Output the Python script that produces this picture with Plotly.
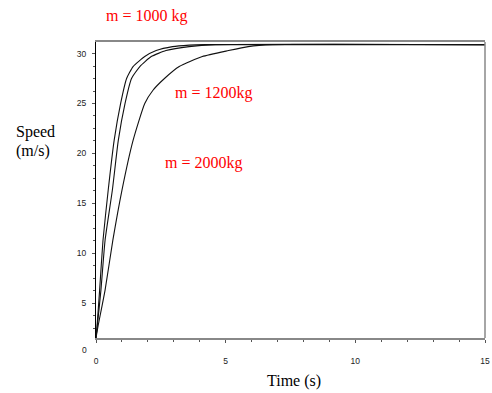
import plotly.graph_objects as go

# Curve data (time in s, speed in m/s)
t_1000 = [0, 0.04, 0.14, 0.27, 0.47, 0.70, 0.95, 1.18, 1.43, 1.88, 2.32, 2.95, 3.6, 4.2, 15]
v_1000 = [1.5, 2.7, 6.3, 11.3, 16.3, 21.3, 25.0, 27.5, 28.7, 29.7, 30.3, 30.7, 30.85, 30.9, 30.9]

t_1200 = [0, 0.05, 0.19, 0.35, 0.63, 0.86, 1.12, 1.37, 1.69, 2.13, 2.70, 3.59, 4.6, 15]
v_1200 = [1.5, 2.7, 6.3, 11.3, 16.3, 21.3, 25.0, 27.5, 28.7, 29.7, 30.3, 30.7, 30.9, 30.9]

t_2000 = [0, 0.08, 0.35, 0.65, 1.0, 1.43, 1.88, 2.19, 2.64, 3.21, 4.10, 5.11, 5.87, 6.8, 15]
v_2000 = [1.5, 2.7, 6.3, 11.3, 16.3, 21.3, 25.0, 26.3, 27.5, 28.7, 29.7, 30.3, 30.7, 30.9, 30.9]

x_ticks = [0, 5, 10, 15]
y_ticks = [5, 10, 15, 20, 25, 30]
labels = ["m = 1000 kg", "m = 1200kg", "m = 2000kg"]

W, H = 492, 393
L, R, T, B = 95.7, 2, 41.7, 54.7
pw, ph = W - L - R, H - T - B

def px(x):
    return (x - L) / pw

def py(y):
    return (H - B - y) / ph

fig = go.Figure()
for t, v, name in [(t_1000, v_1000, labels[0]), (t_1200, v_1200, labels[1]), (t_2000, v_2000, labels[2])]:
    fig.add_trace(go.Scatter(x=t, y=v, mode="lines", name=name,
                             line=dict(color="#111111", width=1.1, shape="spline", smoothing=0.5),
                             showlegend=False, hoverinfo="skip"))

tick_font = dict(family="Liberation Sans, Arial, sans-serif", size=8.5, color="#222222")

fig.update_layout(
    width=W, height=H,
    margin=dict(l=L, r=R, t=T, b=B, pad=0),
    paper_bgcolor="white", plot_bgcolor="white",
    xaxis=dict(range=[0, 15], tickvals=x_ticks, ticktext=[str(v) for v in x_ticks],
               showgrid=False, zeroline=False, showline=True, linecolor="#888888", linewidth=2,
               mirror=True, ticks="outside", ticklen=3, tickcolor="#555555", tickwidth=1,
               minor=dict(dtick=1, tick0=0, ticks="outside", ticklen=2, tickcolor="#555555"),
               tickfont=tick_font, ticklabelstandoff=11, ticklabeloverflow="allow"),
    yaxis=dict(range=[1.5, 31.16], tickvals=y_ticks, ticktext=[str(v) for v in y_ticks],
               showgrid=False, zeroline=False, showline=True, linecolor="#000000", linewidth=1,
               ticks="outside", ticklen=3, tickcolor="#555555", tickwidth=1,
               minor=dict(dtick=1.25, tick0=0, ticks="outside", ticklen=2, tickcolor="#555555"),
               tickfont=tick_font, ticklabelstandoff=4),
)

# right frame line
fig.add_shape(type="line", xref="paper", yref="paper", x0=1, x1=1, y0=0, y1=1,
              line=dict(color="#888888", width=1.5))

serif = "Liberation Serif, Times New Roman, serif"
red = dict(family=serif, size=16, color="#FF0000")
black = dict(family=serif, size=16, color="#000000")

ann = [
    (labels[0], 146.7, 15.7, red),
    (labels[1], 214.5, 93.3, red),
    (labels[2], 204.3, 163.3, red),
    ("Time (s)", 296.7, 381.7, black),
]
for text, x, y, f in ann:
    fig.add_annotation(text=text, xref="paper", yref="paper", x=px(x), y=py(y),
                       xanchor="center", yanchor="middle", showarrow=False, font=f)
for text, y in [("Speed", 132.3), ("(m/s)", 151)]:
    fig.add_annotation(text=text, xref="paper", yref="paper", x=px(12.7), y=py(y),
                       xanchor="left", yanchor="middle", showarrow=False, font=black)
# "0" label of the speed axis, drawn below the axis as in the reference
fig.add_annotation(text="0", xref="paper", yref="paper", x=px(88.5), y=py(350),
                   xanchor="right", yanchor="middle", showarrow=False, font=tick_font)

fig.write_html("out.html", config={"displayModeBar": False},
               post_script="document.body.style.margin='0';document.body.style.overflow='hidden';")
